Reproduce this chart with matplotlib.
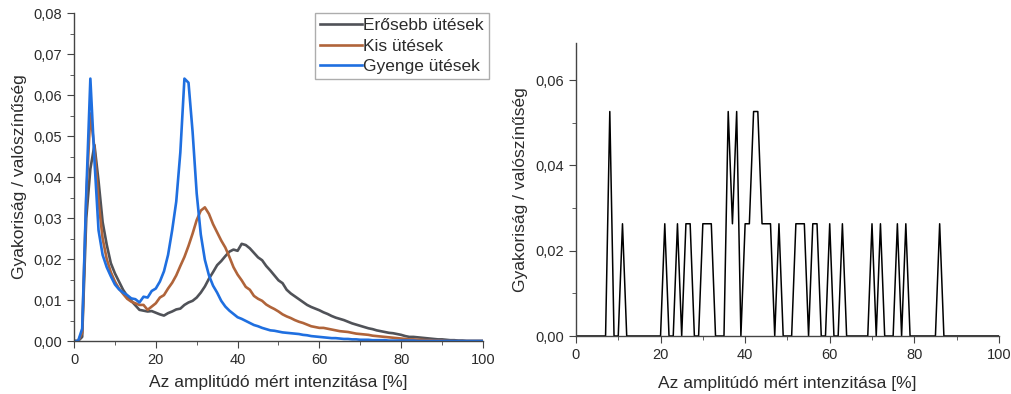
import matplotlib
matplotlib.use("Agg")
from matplotlib import pyplot as plt
from matplotlib.ticker import FuncFormatter, MultipleLocator

# shared x grid for the distributions [%]
amplitude = list(range(0, 101))

eros = [0, 0, 0.001, 0.030, 0.042, 0.0478, 0.039, 0.029, 0.0235, 0.019,
        0.0165, 0.0145, 0.0125, 0.011, 0.0098, 0.0087, 0.0076, 0.0074, 0.0072, 0.0073,
        0.0069, 0.0065, 0.0062, 0.0068, 0.0072, 0.0077, 0.0079, 0.0088, 0.0094, 0.0098,
        0.0106, 0.0118, 0.0133, 0.0152, 0.0168, 0.0185, 0.0195, 0.0207, 0.0218, 0.0223,
        0.0220, 0.0237, 0.0234, 0.0226, 0.0215, 0.0204, 0.0197, 0.0183, 0.0172, 0.0160,
        0.0148, 0.0141, 0.0125, 0.0116, 0.0109, 0.0102, 0.0095, 0.0088, 0.0083, 0.0079,
        0.0075, 0.0070, 0.0066, 0.0061, 0.0057, 0.0054, 0.0051, 0.0047, 0.0043, 0.0040,
        0.0037, 0.0034, 0.0031, 0.0029, 0.0026, 0.0024, 0.0022, 0.0020, 0.0019, 0.0017,
        0.0015, 0.0012, 0.0010, 0.0010, 0.0009, 0.0008, 0.0007, 0.0006, 0.0005, 0.0004,
        0.0004, 0.0003, 0.0002, 0.0002, 0.0001, 0.0001, 0, 0, 0, 0, 0]

kis = [0, 0, 0.002, 0.035, 0.0555, 0.047, 0.034, 0.025, 0.020, 0.0168,
       0.0145, 0.0128, 0.0115, 0.0103, 0.0096, 0.0092, 0.0088, 0.0088, 0.0076, 0.0084,
       0.0092, 0.0106, 0.0112, 0.0128, 0.0142, 0.0160, 0.0183, 0.0205, 0.0232, 0.0262,
       0.0295, 0.0318, 0.0326, 0.0310, 0.0285, 0.0265, 0.0245, 0.0228, 0.0205, 0.0180,
       0.0162, 0.0148, 0.0132, 0.0125, 0.0110, 0.0103, 0.0098, 0.0089, 0.0083, 0.0078,
       0.0072, 0.0065, 0.0060, 0.0056, 0.0051, 0.0047, 0.0044, 0.0040, 0.0036, 0.0034,
       0.0032, 0.0032, 0.0030, 0.0028, 0.0026, 0.0024, 0.0023, 0.0022, 0.0020, 0.0018,
       0.0017, 0.0016, 0.0015, 0.0013, 0.0012, 0.0011, 0.0010, 0.0009, 0.0008, 0.0007,
       0.0006, 0.0005, 0.0004, 0.0004, 0.0003, 0.0003, 0.0002, 0.0002, 0.0001, 0.0001,
       0.0001, 0, 0, 0, 0, 0, 0, 0, 0, 0, 0]

gyenge = [0, 0, 0.003, 0.036, 0.064, 0.044, 0.027, 0.021, 0.018, 0.0158,
          0.0138, 0.0126, 0.0118, 0.0112, 0.0104, 0.0102, 0.0094, 0.0108, 0.0106, 0.0122,
          0.0128, 0.0145, 0.0170, 0.0210, 0.0270, 0.0340, 0.0460, 0.0640, 0.0630, 0.0510,
          0.0360, 0.0260, 0.0198, 0.0160, 0.0135, 0.0118, 0.0098, 0.0084, 0.0074, 0.0066,
          0.0058, 0.0054, 0.0049, 0.0044, 0.0039, 0.0036, 0.0032, 0.0029, 0.0026, 0.0025,
          0.0023, 0.0021, 0.0020, 0.0019, 0.0018, 0.0017, 0.0015, 0.0014, 0.0012, 0.0011,
          0.0010, 0.0009, 0.0008, 0.0007, 0.0007, 0.0006, 0.0005, 0.0005, 0.0004, 0.0004,
          0.0003, 0.0003, 0.0003, 0.0002, 0.0002, 0.0002, 0.0002, 0.0001, 0.0001, 0.0001,
          0.0001, 0.0001, 0.0001, 0.0001, 0, 0, 0, 0, 0, 0,
          0, 0, 0, 0, 0, 0, 0, 0, 0, 0, 0]

# right chart: single-sample histogram, counts per 1 % bin (38 hits total)
single_counts = [0, 0, 0, 0, 0, 0, 0, 0, 2, 0,
                 0, 1, 0, 0, 0, 0, 0, 0, 0, 0,
                 0, 1, 0, 0, 1, 0, 1, 1, 0, 0,
                 1, 1, 1, 0, 0, 0, 2, 1, 2, 0,
                 1, 1, 2, 2, 1, 1, 1, 0, 1, 0,
                 0, 0, 1, 1, 1, 0, 1, 1, 0, 0,
                 1, 0, 0, 1, 0, 0, 0, 0, 0, 0,
                 1, 0, 1, 0, 0, 0, 1, 0, 1, 0,
                 0, 0, 0, 0, 0, 0, 1, 0, 0, 0,
                 0, 0, 0, 0, 0, 0, 0, 0, 0, 0, 0]
single_total = 38

labels = ["Erősebb ütések", "Kis ütések", "Gyenge ütések"]
colors = ["#505258", "#b0643a", "#1f6fe0"]

XLABEL = "Az amplitúdó mért intenzitása [%]"
YLABEL = "Gyakoriság / valószínűség"
TEXT = "#2b2b2b"

plt.rcParams["font.family"] = ["Liberation Sans", "DejaVu Sans"]


def comma(v, pos):
    return f"{v:.2f}".replace(".", ",")


def style_axes(ax, xpad):
    for side in ["top", "right"]:
        ax.spines[side].set_visible(False)
    for side in ["left", "bottom"]:
        ax.spines[side].set_color("#444444")
        ax.spines[side].set_linewidth(1.0)
    ax.tick_params(which="both", direction="out", colors="#444444", labelcolor=TEXT, labelsize=10.5)
    ax.tick_params(which="major", length=5)
    ax.tick_params(which="minor", length=3)
    ax.xaxis.set_major_locator(MultipleLocator(20))
    ax.xaxis.set_minor_locator(MultipleLocator(10))
    ax.yaxis.set_major_formatter(FuncFormatter(comma))
    ax.set_xlim(0, 100)
    ax.set_xlabel(XLABEL, fontsize=12.5, color=TEXT, labelpad=xpad)
    ax.set_ylabel(YLABEL, fontsize=12.5, color=TEXT, labelpad=5)


fig = plt.figure(figsize=(10.11, 3.94), dpi=100)

ax1 = fig.add_axes([0.0732, 0.1345, 0.4045, 0.8325])
for series, label, color in zip([eros, kis, gyenge], labels, colors):
    ax1.plot(amplitude, series, color=color, linewidth=1.9, label=label)
style_axes(ax1, 6)
ax1.set_ylim(0, 0.08)
ax1.yaxis.set_major_locator(MultipleLocator(0.01))
ax1.yaxis.set_minor_locator(MultipleLocator(0.005))
leg = ax1.legend(loc="upper right", bbox_to_anchor=(1.015, 1.0), fontsize=12.5, frameon=True,
                 fancybox=False, handlelength=2.4, handletextpad=0.1, borderpad=0.3,
                 labelspacing=0.3, borderaxespad=0.0)
leg.get_frame().set_edgecolor("#999999")
leg.get_frame().set_linewidth(1.0)
for t in leg.get_texts():
    t.set_color(TEXT)

ax2 = fig.add_axes([0.5697, 0.1472, 0.4183, 0.7437])
ax2.plot(amplitude, [c / single_total for c in single_counts], color="black", linewidth=1.1)
style_axes(ax2, 10)
ax2.set_ylim(0, 0.0687)
ax2.yaxis.set_major_locator(MultipleLocator(0.02))
ax2.yaxis.set_minor_locator(MultipleLocator(0.01))

fig.savefig("out.png", dpi=100)
